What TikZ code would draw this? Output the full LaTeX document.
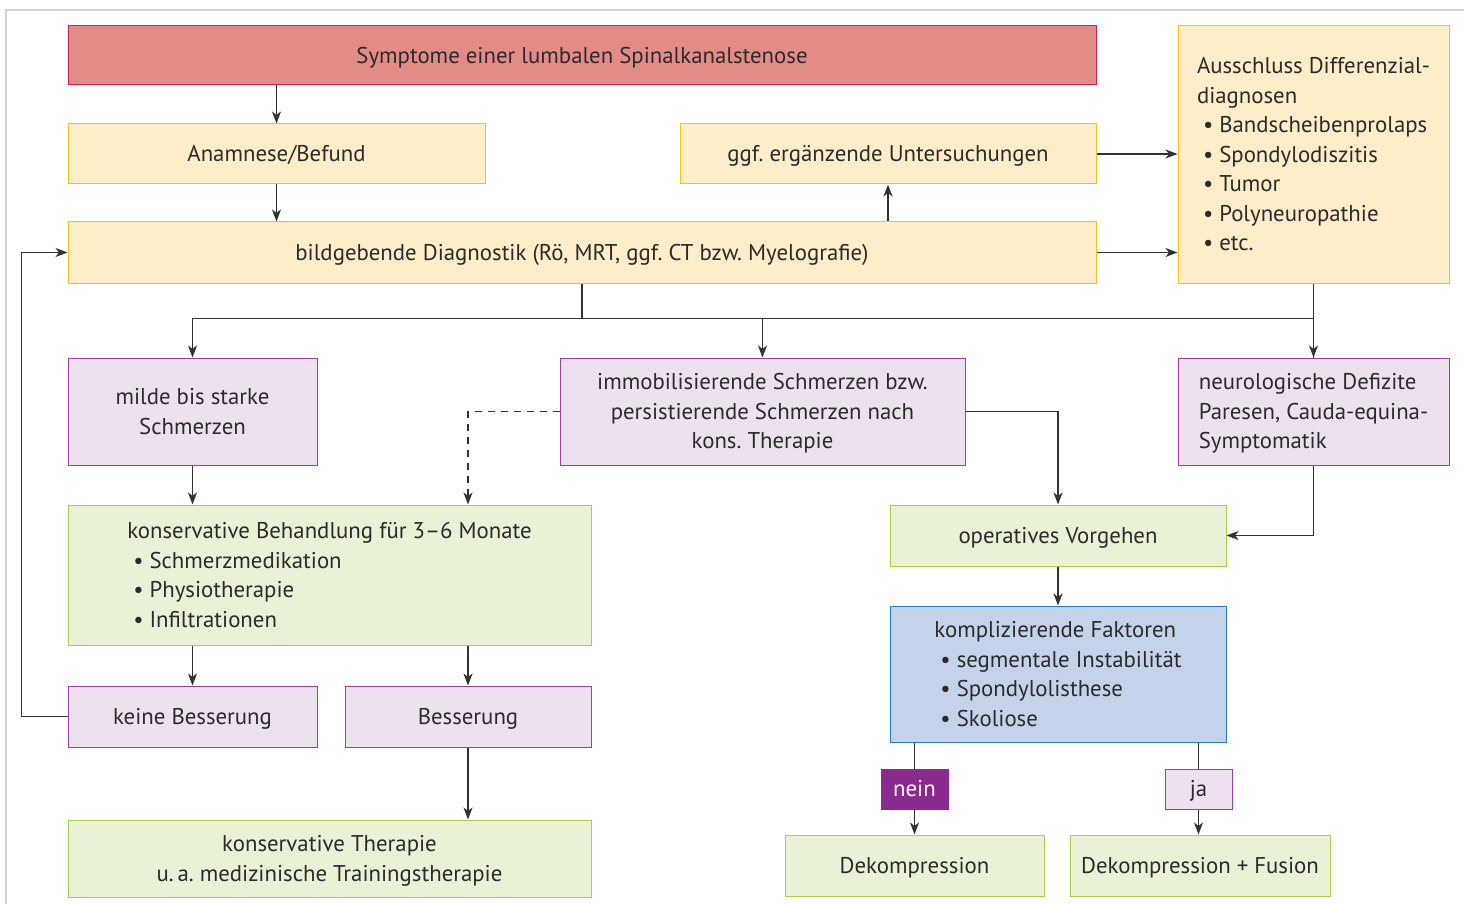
\documentclass[tikz,border=0pt]{standalone}
\usepackage{fontspec}
\setmainfont{PT Sans}
\frenchspacing
\usetikzlibrary{arrows.meta}
\definecolor{redfill}{HTML}{E38C87}
\definecolor{redline}{HTML}{D42050}
\definecolor{yelfill}{HTML}{FDEDC9}
\definecolor{yelline}{HTML}{F5C21B}
\definecolor{purfill}{HTML}{EDE1EF}
\definecolor{purline}{HTML}{9C3FA3}
\definecolor{grnfill}{HTML}{E9F2D6}
\definecolor{grnline}{HTML}{A8CF45}
\definecolor{blufill}{HTML}{C5D3EA}
\definecolor{bluline}{HTML}{2A7AC6}
\definecolor{neinfill}{HTML}{8B2A8E}
\definecolor{framegray}{HTML}{D3D3D3}
\definecolor{txt}{HTML}{2B2B2B}
\definecolor{conn}{HTML}{333333}
\newcommand{\bitem}[1]{\hspace*{6pt}\textbullet\hspace{6pt}#1}
\begin{document}
\begin{tikzpicture}[x=1pt,y=-1pt,
  every node/.style={font=\fontsize{22.8}{29.5}\selectfont, text=txt, inner sep=0pt},
  box/.style={draw, line width=1pt, align=center, text depth=0.5pt},
  redbox/.style={box, fill=redfill, draw=redline},
  yelbox/.style={box, fill=yelfill, draw=yelline},
  purbox/.style={box, fill=purfill, draw=purline},
  grnbox/.style={box, fill=grnfill, draw=grnline},
  blubox/.style={box, fill=blufill, draw=bluline},
  arr/.style={draw=conn, line width=1.2pt, -{Stealth[length=12pt,width=9pt,inset=3.5pt]}},
  ln/.style={draw=conn, line width=1.2pt},
  dsh/.style={arr, dash pattern=on 7pt off 6pt}
]
\useasboundingbox (0,0) rectangle (1464,904);
\draw[framegray, line width=2pt] (6,905) -- (6,10) -- (1465,10);

% boxes: center, width, height
\node[redbox, minimum width=1028pt, minimum height=59pt] (sym) at (582,55.5) {Symptome einer lumbalen Spinalkanalstenose};
\node[yelbox, minimum width=417pt, minimum height=60pt] (ana) at (276.5,154) {Anamnese/Befund};
\node[yelbox, minimum width=416pt, minimum height=60pt] (ggf) at (888,154) {ggf. ergänzende Untersuchungen};
\node[yelbox, minimum width=1028pt, minimum height=61pt] (bild) at (582,252.5) {bildgebende Diagnostik (Rö, MRT, ggf. CT bzw. Myelografie)};
\node[yelbox, minimum width=271pt, minimum height=257pt, align=left] (aus) at (1313.5,154.5) {Ausschluss Differenzial-\\diagnosen\\\bitem{Bandscheibenprolaps}\\\bitem{Spondylodiszitis}\\\bitem{Tumor}\\\bitem{Polyneuropathie}\\\bitem{etc.}};

\node[purbox, minimum width=249pt, minimum height=107pt] (milde) at (192.5,411.5) {milde bis starke\\Schmerzen};
\node[purbox, minimum width=405pt, minimum height=107pt] (immo) at (762.5,411.5) {immobilisierende Schmerzen bzw.\\persistierende Schmerzen nach\\kons. Therapie};
\node[purbox, minimum width=271pt, minimum height=107pt, align=left] (neuro) at (1313.5,411.5) {neurologische Defizite\\Paresen, Cauda-equina-\\Symptomatik};

\node[grnbox, minimum width=523pt, minimum height=140pt, align=left] (konsB) at (329.5,575) {konservative Behandlung für 3–6 Monate\\\bitem{Schmerzmedikation}\\\bitem{Physiotherapie}\\\bitem{Infiltrationen}};
\node[grnbox, minimum width=336pt, minimum height=61pt] (op) at (1058,535.5) {operatives Vorgehen};
\node[blubox, minimum width=336pt, minimum height=136pt, align=left] (komp) at (1058,674) {komplizierende Faktoren\\\bitem{segmentale Instabilität}\\\bitem{Spondylolisthese}\\\bitem{Skoliose}};

\node[purbox, minimum width=249pt, minimum height=61pt] (keine) at (192.5,716.5) {keine Besserung};
\node[purbox, minimum width=246pt, minimum height=61pt] (bess) at (468,716.5) {Besserung};
\node[grnbox, minimum width=523pt, minimum height=77pt] (ther) at (329.5,858.5) {konservative Therapie\\u.\,a. medizinische Trainingstherapie};

\node[box, fill=neinfill, draw=neinfill, text=white, minimum width=67pt, minimum height=40pt] (nein) at (914.5,789) {nein};
\node[purbox, minimum width=67pt, minimum height=40pt] (ja) at (1198.5,789) {ja};
\node[grnbox, minimum width=259pt, minimum height=61pt] (dek) at (914.5,865.5) {Dekompression};
\node[grnbox, minimum width=260pt, minimum height=61pt] (fus) at (1200,865.5) {Dekompression + Fusion};

% connectors
\draw[arr] (ana.north |- sym.south) -- (ana.north);
\draw[arr] (ana.south) -- (ana.south |- bild.north);
\draw[arr] (ggf.south |- bild.north) -- (ggf.south);
\draw[arr] (ggf.east) -- (ggf.east -| aus.west);
\draw[arr] (bild.east) -- (bild.east -| aus.west);
\path (bild.south) ++(0,35) coordinate (j);
\draw[ln] (bild.south) -- (j);
\draw[arr] (j) -| (milde.north);
\draw[arr] (j) -| (immo.north);
\draw[ln] (j) -| (neuro.north);
\draw[arr] (aus.south) -- (neuro.north);
\draw[dsh] (immo.west) -| (konsB.north -| bess.north);
\draw[arr] (immo.east) -| (op.north);
\draw[arr] (neuro.south) |- (op.east);
\draw[arr] (milde.south) -- (milde.south |- konsB.north);
\draw[arr] (konsB.south -| keine.north) -- (keine.north);
\draw[arr] (konsB.south -| bess.north) -- (bess.north);
\path (keine.west) ++(-46,0) coordinate (lb);
\draw[arr] (keine.west) -- (lb) |- (bild.west);
\draw[arr] (bess.south) -- (bess.south |- ther.north);
\draw[arr] (op.south) -- (komp.north);
\draw[ln] (nein.north |- komp.south) -- (nein.north);
\draw[arr] (nein.south) -- (dek.north);
\draw[ln] (ja.north |- komp.south) -- (ja.north);
\draw[arr] (ja.south) -- (ja.south |- fus.north);
\end{tikzpicture}
\end{document}
